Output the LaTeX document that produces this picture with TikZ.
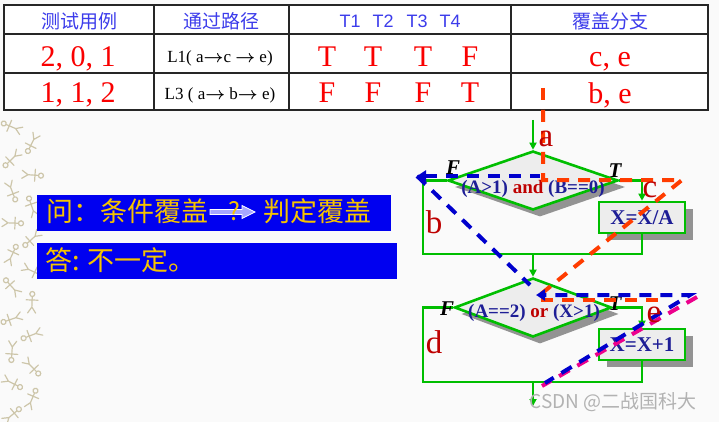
\documentclass[tikz,border=0pt]{standalone}
\usepackage{amsmath}
\usepackage{fontspec}
\setmainfont{Liberation Serif}
\newfontfamily\cjk{Noto Sans CJK SC}
\newfontfamily\arial{Liberation Sans}
\usepackage{xcolor}
\usetikzlibrary{arrows.meta,positioning,shapes.geometric,calc}

\definecolor{hdblue}{RGB}{60,60,235}
\definecolor{cellred}{RGB}{250,0,0}
\definecolor{flowgreen}{RGB}{0,190,0}
\definecolor{condblue}{RGB}{30,30,150}
\definecolor{condred}{RGB}{190,0,0}
\definecolor{pathred}{RGB}{255,60,0}
\definecolor{pathblue}{RGB}{0,0,205}
\definecolor{qblue}{RGB}{0,0,240}
\definecolor{qyellow}{RGB}{245,195,0}
\definecolor{decotan}{RGB}{205,198,170}
\newcommand{\fsz}[1]{\fontsize{#1}{#1}\selectfont}

\begin{document}
\begin{tikzpicture}[x=1pt, y=-1pt,
    grid/.style={black!85, line width=1.6pt},
    hd/.style={font=\cjk\fsz{19}, text=hdblue},
    hdt/.style={font=\arial\fsz{18}, text=hdblue, anchor=base},
    val/.style={font=\fsz{30}, text=cellred, anchor=base},
    route/.style={font=\fsz{17}, anchor=base},
    qbar/.style={fill=qblue, anchor=north west, minimum height=36pt, inner sep=0pt},
    qtext/.style={font=\cjk\fsz{27}, text=qyellow, anchor=west, inner sep=0pt},
    flow/.style={flowgreen, line width=2.6pt},
    flowarr/.style={flow, -{Triangle[length=7pt,width=7pt]}},
    decision/.style={diamond, draw=flowgreen, line width=2.6pt, fill=gray!14, inner sep=0pt},
    dshadow/.style={diamond, fill=gray!85, inner sep=0pt},
    stepbox/.style={rectangle, draw=flowgreen, line width=2.6pt, fill=gray!14,
      minimum width=86pt, minimum height=31pt, font=\bfseries\fsz{21}, text=condblue},
    cond/.style={font=\bfseries\fsz{19}, text=condblue, anchor=base, inner sep=0pt},
    tf/.style={font=\bfseries\itshape\fsz{21}, anchor=base, inner sep=0pt},
    lbl/.style={font=\fsz{33}, text=condred, anchor=base, inner sep=0pt},
    rdash/.style={pathred, line width=4pt, dash pattern=on 12pt off 9pt},
    bdash/.style={pathblue, line width=4pt, dash pattern=on 12pt off 9pt},
    mdash/.style={magenta, line width=4pt, dash pattern=on 12pt off 9pt},
    btip/.style={{Triangle[length=9pt,width=11pt]}-},
    deco/.style={decotan, line width=1.2pt, line cap=round}
]
  \fill[black!2] (0,0) rectangle (719,422);
  \useasboundingbox (0,0) rectangle (719,422);

  % left pattern strip
  \foreach \yy [count=\k] in {118,150,...,410}{
    \pgfmathsetmacro{\rr}{mod(\k*67,360)}
    \draw[deco, rotate around={\rr:(12,\yy+9)}] (12,\yy) circle (2.5)
      (12,\yy+3) -- (12,\yy+13) (6,\yy+6) -- (18,\yy+6)
      (12,\yy+13) -- (8,\yy+19) (12,\yy+13) -- (16,\yy+19);
    \pgfmathsetmacro{\ss}{mod(\k*113+40,360)}
    \draw[deco, rotate around={\ss:(32,\yy+25)}] (32,\yy+16) circle (2.5)
      (32,\yy+19) -- (32,\yy+29) (26,\yy+22) -- (38,\yy+22)
      (32,\yy+29) -- (28,\yy+35) (32,\yy+29) -- (36,\yy+35);
  }

  % table
  \fill[white] (4,5) rectangle (708,110);
  \draw[rdash] (543,88) -- (543,110);
  \draw[grid] (4,5) rectangle (708,110);
  \foreach \yy in {34,73} \draw[grid] (4,\yy) -- (708,\yy);
  \foreach \xx in {154,289,511} \draw[grid] (\xx,5) -- (\xx,110);

  \node[hd] (hcase) at (79,21) {测试用例};
  \node[hd] (hpath) at (221,21) {通过路径};
  \foreach \x/\t in {350/1,383/2,417/3,450/4}
    \node[hdt] (ht\t) at (\x,28) {T\t};
  \node[hd] (hbr) at (610,21) {覆盖分支};

  \node[val] (case1) at (78,67) {2, 0, 1};
  \node[route] (path1) at (220,63) {L1( a$\boldsymbol{\rightarrow}$c $\boldsymbol{\rightarrow}$ e)};
  \foreach \x/\v [count=\i] in {327/T,373/T,423/T,470/F}
    \node[val] (ta\i) at (\x,67) {\v};
  \node[val] (br1) at (610,67) {c, e};

  \node[val] (case2) at (78,103) {1, 1, 2};
  \node[route] (path2) at (220,100) {L3 ( a$\boldsymbol{\rightarrow}$ b$\boldsymbol{\rightarrow}$ e)};
  \foreach \x/\v [count=\i] in {327/F,373/F,423/F,470/T}
    \node[val] (tb\i) at (\x,103) {\v};
  \node[val] (br2) at (610,104) {b, e};

  % question and answer
  \node[qbar, minimum width=354pt] (qbar) at (37,195) {};
  \node[qtext] (q1) at (46,211) {问：条件覆盖};
  \draw[white, fill=blue!35!white, line width=0.8pt]
    (210,209.5) -- (242,209.5) -- (242,205.5) -- (255,212) -- (242,218.5)
    -- (242,214.5) -- (210,214.5) -- cycle;
  \node[font=\cjk\fsz{25}, text=qyellow, inner sep=0pt] (qmark) at (234,211) {?};
  \node[qtext] (q2) at (263,211) {判定覆盖};
  \node[qbar, minimum width=360pt] (abar) at (37,243) {};
  \node[qtext] (a1) at (45,260) {答: 不一定。};

  % flowchart
  \coordinate (entry) at (533,120);
  \node[dshadow, minimum width=170pt, minimum height=59pt] at (540,187) {};
  \node[decision, minimum width=170pt, minimum height=59pt] (dec1) at (533,180.5) {};
  \fill[gray!85] (607,209) rectangle (693,240);
  \node[stepbox] (box1) at (642,217.5) {X=X/A};
  \coordinate (join1) at (533,254);
  \coordinate (left1) at (423,254);

  \node[dshadow, minimum width=157pt, minimum height=59pt] at (540,314) {};
  \node[decision, minimum width=157pt, minimum height=59pt] (dec2) at (533,307.5) {};
  \fill[gray!85] (607,336) rectangle (693,367);
  \node[stepbox] (box2) at (642,344.5) {X=X+1};
  \coordinate (join2) at (533,382);
  \coordinate (left2) at (423,382);
  \coordinate (exit) at (533,406);

  \draw[flowarr] (entry) -- (dec1.north);
  \draw[flow] (dec1.west) -| (left1) -- (join1);
  \draw[flowarr] (dec1.east) -| (box1.north);
  \draw[flow] (box1.south) |- (join1);
  \draw[flowarr] (join1) -- (dec2.north);
  \draw[flow] (dec2.west) -| (left2) -- (join2);
  \draw[flowarr] (dec2.east) -| (box2.north);
  \draw[flow] (box2.south) |- (join2);
  \draw[flowarr] (join2) -- (exit);

  \node[cond] (c1) at (533,193) {(A>1) {\color{condred}and} (B==0)};
  \node[cond] (c2) at (534,317) {(A==2) {\color{condred}or} (X>1)};
  \node[tf] (f1) at (453,175) {F};
  \node[tf] (t1) at (615,177) {T};
  \node[tf] (f2) at (447,315) {F};
  \node[tf] (t2) at (615,310) {T};

  % covered paths
  \draw[rdash] (543,110) -- (543,180) -- (682,180) -- (541,294);
  \draw[rdash] (541,300) -- (665,300);
  \draw[bdash, btip] (417,176) -- (540,176);
  \draw[bdash] (417,176) -- (530,285);
  \draw[mdash] (697,297) -- (542,386);
  \draw[bdash, btip, dash phase=10pt] (536,295) -- (690,295) -- (545,383);

  \node[lbl] (la) at (546,147) {a};
  \node[lbl] (lb) at (434,233) {b};
  \node[lbl] (lc) at (650,197) {c};
  \node[lbl] (ld) at (434,353) {d};
  \node[lbl] (le) at (654,322) {e};

  \node[font=\cjk\fsz{19}, text=gray!60] (mark) at (613,402) {CSDN @二战国科大};
\end{tikzpicture}
\end{document}
